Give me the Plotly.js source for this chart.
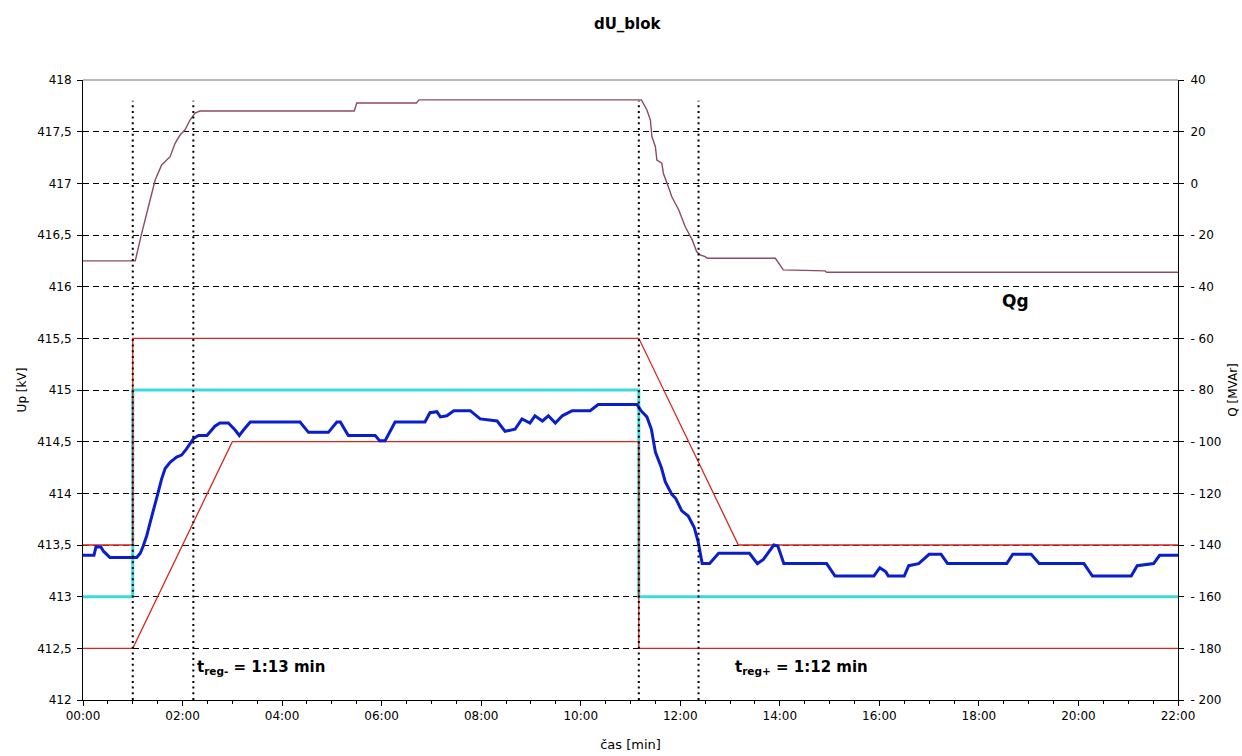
<!DOCTYPE html>
<html>
<head>
<meta charset="utf-8">
<script src="https://cdn.plot.ly/plotly-3.0.1.min.js"></script>
<style>html,body{margin:0;padding:0;background:#fff;}#chart{width:1242px;height:756px;}</style>
</head>
<body>
<div id="chart"></div>
<script>
// ---- data ----
const xTickVals = [0, 2, 4, 6, 8, 10, 12, 14, 16, 18, 20, 22];
const xTickText = ["00:00", "02:00", "04:00", "06:00", "08:00", "10:00", "12:00", "14:00", "16:00", "18:00", "20:00", "22:00"];
const upTickVals = [412, 412.5, 413, 413.5, 414, 414.5, 415, 415.5, 416, 416.5, 417, 417.5, 418];
const upTickText = ["412", "412,5", "413", "413,5", "414", "414,5", "415", "415,5", "416", "416,5", "417", "417,5", "418"];
const qTickVals = [-200, -180, -160, -140, -120, -100, -80, -60, -40, -20, 0, 20, 40];
const qTickText = ["-\u00a0200", "-\u00a0180", "-\u00a0160", "-\u00a0140", "-\u00a0120", "-\u00a0100", "-\u00a080", "-\u00a060", "-\u00a040", "-\u00a020", "0", "20", "40"];

// Qg [MVAr] (right axis)
const qgT = [0, 1.05, 1.18, 1.35, 1.45, 1.58, 1.75, 1.85, 1.95, 2.05, 2.15, 2.25, 2.35, 5.45, 5.5, 6.7, 6.75, 11.22, 11.33, 11.40, 11.43, 11.50, 11.53, 11.63, 11.66, 11.76, 11.83, 11.97, 12.10, 12.24, 12.33, 12.40, 12.50, 12.54, 13.91, 14.07, 14.91, 14.94, 22];
const qgVal = [-30, -30, -19.3, -6.2, 1.3, 7.1, 10.3, 15.5, 18.7, 20.7, 24.5, 27.2, 28.0, 28.0, 31.1, 31.1, 32.3, 32.3, 28.4, 24.5, 18.1, 14.2, 9.0, 7.8, 3.9, -1.3, -5.2, -10.3, -16.8, -21.9, -26.5, -27.7, -28.4, -29.0, -29.0, -33.5, -33.9, -34.4, -34.4];

// reference voltage setpoint [kV]
const refT = [0, 1, 1, 11.167, 11.167, 22];
const refVal = [413, 413, 415, 415, 413, 413];

// tolerance band upper / lower [kV]
const upperT = [0, 1, 1, 11.167, 13.167, 22];
const upperVal = [413.5, 413.5, 415.5, 415.5, 413.5, 413.5];
const lowerT = [0, 1, 3, 11.167, 11.167, 22];
const lowerVal = [412.5, 412.5, 414.5, 414.5, 412.5, 412.5];

// measured Up [kV]
const upT = [0, 0.22, 0.26, 0.36, 0.41, 0.54, 1.08, 1.15, 1.21, 1.28, 1.35, 1.41, 1.51, 1.58, 1.65, 1.75, 1.88, 1.98, 2.08, 2.22, 2.32, 2.49, 2.65, 2.75, 2.92, 3.06, 3.14, 3.22, 3.36, 4.36, 4.53, 4.93, 5.10, 5.17, 5.33, 5.87, 5.96, 6.07, 6.27, 6.87, 6.97, 7.11, 7.18, 7.31, 7.45, 7.78, 7.98, 8.32, 8.48, 8.68, 8.82, 8.98, 9.08, 9.23, 9.35, 9.49, 9.63, 9.83, 10.19, 10.35, 11.13, 11.21, 11.33, 11.42, 11.50, 11.62, 11.70, 11.83, 11.91, 12.03, 12.16, 12.28, 12.36, 12.44, 12.59, 12.77, 13.39, 13.55, 13.67, 13.88, 13.96, 14.08, 14.94, 15.11, 15.89, 16.01, 16.13, 16.18, 16.50, 16.59, 16.79, 17.00, 17.24, 17.37, 18.56, 18.68, 19.05, 19.21, 20.11, 20.28, 21.06, 21.18, 21.51, 21.63, 22];
const upVal = [413.4, 413.4, 413.48, 413.48, 413.44, 413.38, 413.38, 413.42, 413.49, 413.59, 413.72, 413.82, 414.01, 414.14, 414.24, 414.30, 414.35, 414.37, 414.43, 414.53, 414.56, 414.56, 414.65, 414.68, 414.68, 414.61, 414.56, 414.61, 414.69, 414.69, 414.59, 414.59, 414.69, 414.69, 414.56, 414.56, 414.51, 414.51, 414.69, 414.69, 414.78, 414.79, 414.74, 414.75, 414.8, 414.8, 414.72, 414.7, 414.6, 414.62, 414.72, 414.68, 414.75, 414.7, 414.75, 414.68, 414.75, 414.8, 414.8, 414.86, 414.86, 414.80, 414.74, 414.62, 414.40, 414.25, 414.11, 413.99, 413.95, 413.83, 413.78, 413.67, 413.53, 413.32, 413.32, 413.42, 413.42, 413.32, 413.36, 413.50, 413.49, 413.32, 413.32, 413.20, 413.20, 413.28, 413.24, 413.20, 413.20, 413.30, 413.32, 413.41, 413.41, 413.32, 413.32, 413.41, 413.41, 413.32, 413.32, 413.20, 413.20, 413.30, 413.32, 413.40, 413.40];

// event times (dotted markers) and their top level
const eventTimes = [1.0, 2.2167, 11.167, 12.367];
const eventTop = 417.8;

// labels
const annoTexts = ["<b>t<sub>reg-</sub> = 1:13 min</b>", "<b>t<sub>reg+</sub> = 1:12 min</b>", "<b>Qg</b>"];
const annoX = [2.25, 13.05, 18.43];
const annoY = [412.31, 412.31, 415.86];

// ---- chart ----
const FONT = "DejaVu Sans, Arial, sans-serif";
const traces = [
  {x: qgT, y: qgVal, yaxis: "y2", mode: "lines", line: {color: "#8c4a6a", width: 1.4}, name: "Qg", hoverinfo: "skip"},
  {x: refT, y: refVal, mode: "lines", line: {color: "#3fd9dc", width: 3}, name: "Uref", hoverinfo: "skip"},
  {x: upperT, y: upperVal, mode: "lines", line: {color: "#d8281e", width: 1.3}, name: "Umax", hoverinfo: "skip"},
  {x: lowerT, y: lowerVal, mode: "lines", line: {color: "#d8281e", width: 1.3}, name: "Umin", hoverinfo: "skip"},
  {x: upT, y: upVal, mode: "lines", line: {color: "#0a1ecc", width: 3}, name: "Up", hoverinfo: "skip"}
];

const shapes = eventTimes.map(t => ({
  type: "line", xref: "x", yref: "y", x0: t, x1: t, y0: 412, y1: eventTop,
  line: {color: "#000", width: 2, dash: "2px,3.7px"}, layer: "above"
}));
shapes.push({type: "line", xref: "paper", yref: "paper", x0: 0, x1: 1, y0: 1, y1: 1,
  line: {color: "#a0a0a0", width: 1.5}, layer: "above"});

const annotations = annoTexts.map((txt, i) => ({
  x: annoX[i], y: annoY[i], xref: "x", yref: "y", text: txt, showarrow: false,
  xanchor: "left", yanchor: "middle",
  font: {family: FONT, size: i === 2 ? 17 : 15, color: "#000"}
}));

const layout = {
  width: 1242, height: 756,
  margin: {l: 83, r: 64, t: 80, b: 56, pad: 0},
  paper_bgcolor: "#fff", plot_bgcolor: "#fff",
  showlegend: false,
  font: {family: FONT, size: 12, color: "#000"},
  title: {text: "<b>dU_blok</b>", font: {family: FONT, size: 15, color: "#000"},
    x: 0.505, xref: "container", xanchor: "center", y: 0.968, yref: "container", yanchor: "middle"},
  xaxis: {
    range: [0, 22], tickmode: "array", tickvals: xTickVals, ticktext: xTickText,
    showline: true, linecolor: "#000", linewidth: 1, mirror: false,
    ticks: "outside", ticklen: 5, tickcolor: "#000", tickwidth: 1,
    showgrid: false, zeroline: false,
    tickfont: {family: FONT, size: 12, color: "#000"},
    minor: {tick0: 0, dtick: 0.5, ticks: "outside", ticklen: 3, tickcolor: "#000", showgrid: false},
    title: {text: "čas [min]", font: {family: FONT, size: 13, color: "#000"}, standoff: 17}
  },
  yaxis: {
    range: [412, 418], tickmode: "array", tickvals: upTickVals, ticktext: upTickText,
    showline: true, linecolor: "#000", linewidth: 1,
    ticks: "outside", ticklen: 5, tickcolor: "#000",
    showgrid: true, gridcolor: "#000", gridwidth: 1, griddash: "6px,4px",
    zeroline: false, ticklabelstandoff: 3,
    tickfont: {family: FONT, size: 12, color: "#000"},
    title: {text: "Up [kV]", font: {family: FONT, size: 12, color: "#000"}, standoff: 8}
  },
  yaxis2: {
    range: [-200, 40], overlaying: "y", side: "right", tickmode: "array", tickvals: qTickVals, ticktext: qTickText,
    showline: true, linecolor: "#000", linewidth: 1,
    ticks: "outside", ticklen: 5, tickcolor: "#000",
    showgrid: false, zeroline: false, ticklabelstandoff: 4,
    tickfont: {family: FONT, size: 12, color: "#000"},
    title: {text: "Q [MVAr]", font: {family: FONT, size: 12, color: "#000"}, standoff: 8}
  },
  shapes: shapes,
  annotations: annotations
};

Plotly.newPlot("chart", traces, layout, {displayModeBar: false, staticPlot: true});
</script>
</body>
</html>
